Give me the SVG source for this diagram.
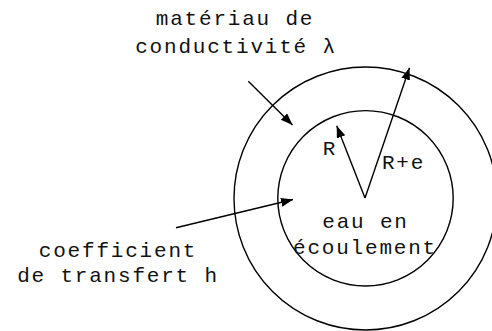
<svg xmlns="http://www.w3.org/2000/svg" width="492" height="331" viewBox="0 0 492 331">
<defs>
<style>
.ring{fill:none;stroke:#000;stroke-width:1.4}
.conn{fill:none;stroke:#000;stroke-width:1.4;marker-end:url(#ah)}
text{font-family:"Liberation Mono","Courier New",monospace;font-size:21px;letter-spacing:1.8px;fill:#111;text-anchor:middle}
</style>
<marker id="ah" markerUnits="userSpaceOnUse" markerWidth="14" markerHeight="10" refX="12" refY="4.5" orient="auto">
<path d="M0,0 L12,4.5 L0,9 Z" fill="#000"/>
</marker>
</defs>
<rect width="492" height="331" fill="#fff"/>
<g id="outer-circle"><circle class="ring" cx="365.5" cy="198.5" r="131.5"/></g>
<g id="inner-circle"><circle class="ring" cx="365.5" cy="198.3" r="87.7"/></g>
<g id="label-materiau"><text x="235" y="25">matériau de</text><text x="236" y="53">conductivité λ</text></g>
<g id="label-coefficient"><text x="118" y="257">coefficient</text><text x="118" y="281.5">de transfert h</text></g>
<g id="label-eau"><text x="365.5" y="228">eau en</text><text x="365" y="254">écoulement</text></g>
<g id="label-R"><text x="330" y="155">R</text></g>
<g id="label-Re"><text x="403.5" y="169">R+e</text></g>
<g id="connectors">
<line class="conn" x1="365" y1="198" x2="336.7" y2="125.7"/>
<line class="conn" x1="365" y1="198" x2="409.5" y2="67.8"/>
<line class="conn" x1="248.3" y1="81.2" x2="292.5" y2="125"/>
<line class="conn" x1="176" y1="227.7" x2="293" y2="199.5"/>
</g>
</svg>
